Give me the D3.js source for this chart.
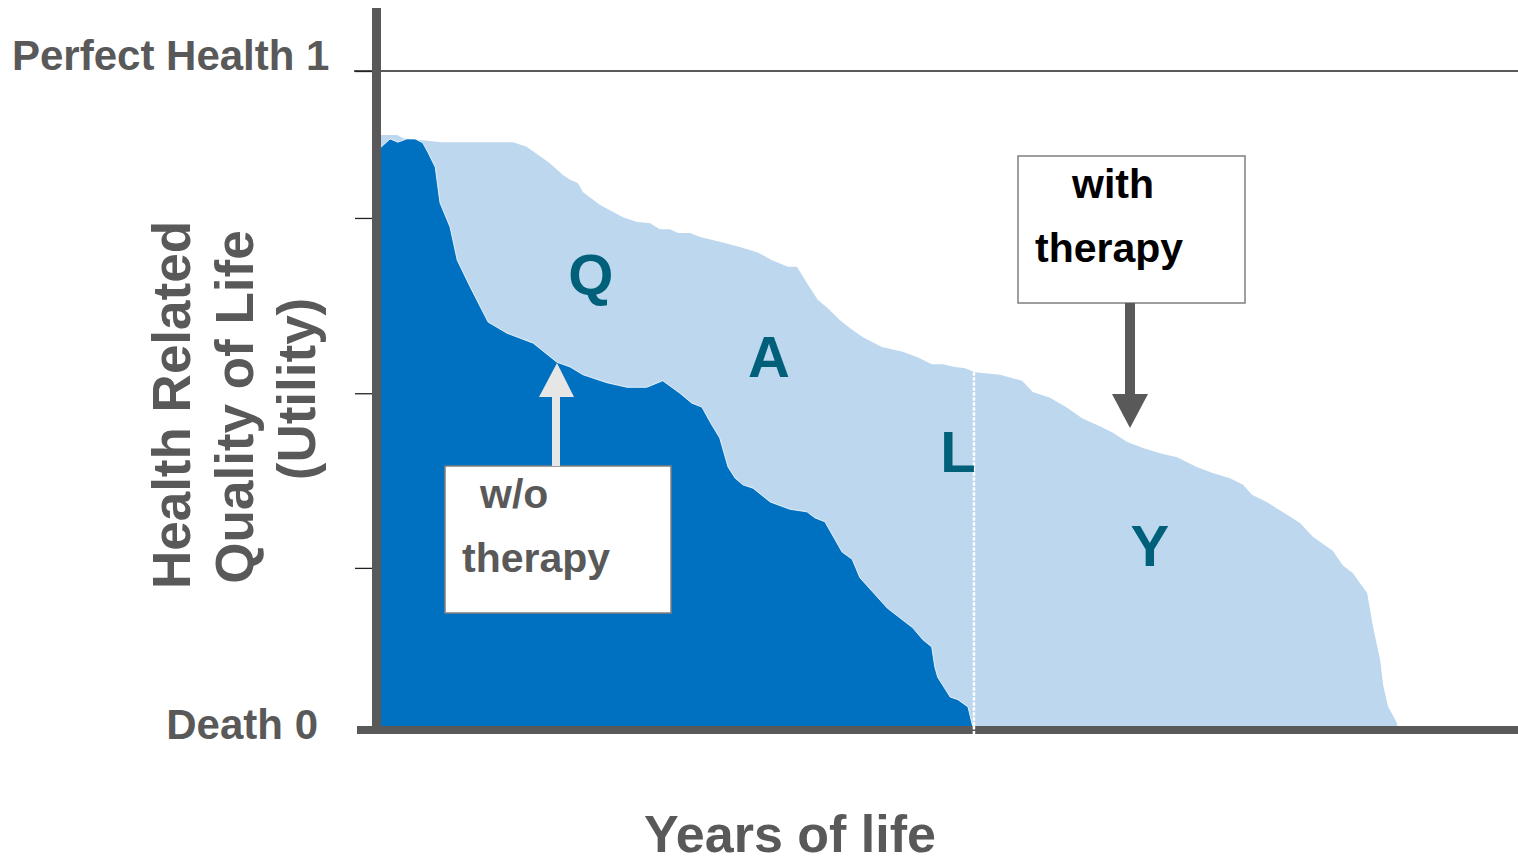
<!DOCTYPE html>
<html>
<head>
<meta charset="utf-8">
<script src="https://cdn.jsdelivr.net/npm/d3@7"></script>
<style>
  body { margin: 0; background: #fff; }
  svg { display: block; }
  text { font-family: "Liberation Sans", Arial, sans-serif; font-weight: bold; }
</style>
</head>
<body>
<div id="chart"></div>
<script>
// years of life (x) and utility (y) for the two survival curves
var withYears = [0, 0.29, 0.39, 1.04, 2.24, 2.47, 2.86, 3.08, 3.20, 3.33, 3.42, 3.70, 4.09, 4.33, 4.55, 4.71, 4.88, 5.02, 5.22, 5.39,
    5.72, 6.06, 6.35, 6.60, 6.87, 7.02, 7.19, 7.37, 7.54, 7.74, 7.91, 8.13, 8.45, 8.80, 9.04, 9.29, 9.48, 9.68, 9.85, 10.02,
    10.44, 10.81, 10.99, 11.28, 11.57, 11.82, 12.12, 12.34, 12.58, 12.85, 13.13, 13.42, 13.75, 14.02, 14.31, 14.53, 14.68, 14.93, 15.19, 15.49,
    15.71, 16.04, 16.21, 16.38, 16.62, 16.72, 16.84, 16.89, 16.97, 17.12, 17.14];
var withUtility = [0.903, 0.903, 0.898, 0.892, 0.892, 0.885, 0.860, 0.842, 0.835, 0.830, 0.816, 0.797, 0.778, 0.771, 0.769, 0.760, 0.760, 0.754, 0.754, 0.748,
    0.741, 0.733, 0.725, 0.713, 0.703, 0.703, 0.678, 0.653, 0.640, 0.622, 0.610, 0.596, 0.581, 0.574, 0.566, 0.555, 0.555, 0.551, 0.549, 0.543,
    0.539, 0.530, 0.513, 0.504, 0.489, 0.473, 0.461, 0.451, 0.437, 0.428, 0.420, 0.414, 0.399, 0.390, 0.382, 0.372, 0.357, 0.346, 0.331, 0.314,
    0.293, 0.272, 0.250, 0.238, 0.208, 0.156, 0.106, 0.068, 0.036, 0.011, 0];

var withoutYears = [0, 0.17, 0.30, 0.45, 0.59, 0.72, 0.81, 0.93, 1.01, 1.18, 1.30, 1.52, 1.82, 2.14, 2.58, 2.98, 3.20, 3.42, 3.82, 4.16,
    4.49, 4.76, 5.05, 5.25, 5.42, 5.56, 5.72, 5.86, 5.98, 6.11, 6.28, 6.57, 6.90, 7.19, 7.32, 7.49, 7.78, 7.95, 8.08, 8.54,
    8.97, 9.14, 9.29, 9.34, 9.39, 9.60, 9.73, 9.90, 9.98, 10.00];
var withoutUtility = [0.883, 0.897, 0.892, 0.897, 0.897, 0.891, 0.876, 0.854, 0.800, 0.763, 0.713, 0.672, 0.619, 0.602, 0.587, 0.558, 0.551, 0.539, 0.527, 0.520,
    0.520, 0.530, 0.511, 0.496, 0.490, 0.467, 0.443, 0.399, 0.382, 0.372, 0.367, 0.346, 0.335, 0.331, 0.322, 0.316, 0.270, 0.259, 0.231, 0.185,
    0.155, 0.137, 0.126, 0.096, 0.080, 0.050, 0.046, 0.035, 0.005, 0];

var utilityTicks = [0.246, 0.511, 0.777, 1];
var splitYear = 10; // where the w/o therapy curve reaches death
var qalyLetters = ["Q", "A", "L", "Y"];
var qalyPos = [[3.55, 0.660], [6.55, 0.536], [9.73, 0.392], [12.96, 0.249]];

var width = 1518, height = 862;
var svg = d3.select("#chart").append("svg")
    .attr("width", width)
    .attr("height", height);

var x = d3.scaleLinear().domain([0, 19.16]).range([380, 1518]);
var y = d3.scaleLinear().domain([0, 1]).range([730, 71]);

var withData = withYears.map(function(d, i) { return [d, withUtility[i]]; });
var withoutData = withoutYears.map(function(d, i) { return [d, withoutUtility[i]]; });

var area = d3.area()
    .x(function(d) { return x(d[0]); })
    .y0(y(0))
    .y1(function(d) { return y(d[1]); });

// with therapy (light) then w/o therapy (dark) on top
svg.append("path")
    .datum(withData)
    .attr("d", area)
    .attr("fill", "#bdd7ee");

svg.append("path")
    .datum(withoutData)
    .attr("d", area)
    .attr("fill", "#0070c0")
    .attr("stroke", "#ffffff")
    .attr("stroke-opacity", 0.8)
    .attr("stroke-width", 1);

// dotted split line
svg.append("line")
    .attr("x1", x(splitYear)).attr("x2", x(splitYear))
    .attr("y1", y(0.543)).attr("y2", y(0) + 4)
    .attr("stroke", "#ffffff")
    .attr("stroke-width", 2.5)
    .attr("stroke-dasharray", "3.5,1.5");

// perfect health line
svg.append("line")
    .attr("x1", 354).attr("x2", width)
    .attr("y1", y(1)).attr("y2", y(1))
    .attr("stroke", "#222")
    .attr("stroke-width", 1.3);

// y ticks
svg.append("g")
    .attr("transform", "translate(" + (x(0) - 8) + ",0)")
    .call(d3.axisLeft(y).tickValues(utilityTicks).tickSize(17).tickFormat(""))
    .call(function(g) {
        g.select(".domain").remove();
        g.selectAll(".tick line").attr("stroke", "#222").attr("stroke-width", 1.3);
    });

// thick axes
svg.append("line")
    .attr("x1", x(0) - 3.5).attr("x2", x(0) - 3.5)
    .attr("y1", 8).attr("y2", y(0))
    .attr("stroke", "#595959")
    .attr("stroke-width", 9);

svg.append("line")
    .attr("x1", 357).attr("x2", width)
    .attr("y1", y(0)).attr("y2", y(0))
    .attr("stroke", "#595959")
    .attr("stroke-width", 8);

// the dotted line pokes through the axis
svg.append("line")
    .attr("x1", x(splitYear)).attr("x2", x(splitYear))
    .attr("y1", y(0) - 4).attr("y2", y(0) + 4)
    .attr("stroke", "#ffffff")
    .attr("stroke-width", 2.5)
    .attr("stroke-dasharray", "3.5,1.5");

// Q A L Y letters
svg.selectAll(".qaly")
    .data(qalyLetters)
    .enter()
    .append("text")
    .attr("class", "qaly")
    .attr("x", function(d, i) { return x(qalyPos[i][0]); })
    .attr("y", function(d, i) { return y(qalyPos[i][1]); })
    .attr("text-anchor", "middle")
    .attr("font-size", 58)
    .attr("fill", "#00607a")
    .text(function(d) { return d; });

// axis labels
svg.append("text")
    .attr("x", 12).attr("y", 70)
    .attr("font-size", 42)
    .attr("fill", "#595959")
    .text("Perfect Health 1");

svg.append("text")
    .attr("x", 318).attr("y", 739)
    .attr("text-anchor", "end")
    .attr("font-size", 42)
    .attr("fill", "#595959")
    .text("Death 0");

svg.append("text")
    .attr("x", 790).attr("y", 852)
    .attr("text-anchor", "middle")
    .attr("font-size", 52)
    .attr("fill", "#595959")
    .text("Years of life");

var yTitle = ["Health Related", "Quality of Life", "(Utility)"];
var yTitleX = [190, 253, 315];
var yTitleY = [405, 407, 389];
yTitle.forEach(function(t, i) {
    svg.append("text")
        .attr("transform", "translate(" + yTitleX[i] + "," + yTitleY[i] + ") rotate(-90)")
        .attr("text-anchor", "middle")
        .attr("font-size", 53)
        .attr("fill", "#595959")
        .text(t);
});

// annotation boxes with arrows
function callout(bx, by, bw, bh, lines, indent, color) {
    svg.append("rect")
        .attr("x", bx).attr("y", by)
        .attr("width", bw).attr("height", bh)
        .attr("fill", "#fff")
        .attr("stroke", "#7f7f7f")
        .attr("stroke-width", 1.5);
    lines.forEach(function(t, i) {
        svg.append("text")
            .attr("x", bx + indent[i])
            .attr("y", by + 42 + i * 64)
            .attr("font-size", 41)
            .attr("fill", color)
            .text(t);
    });
}

callout(1018, 156, 227, 147, ["with", "therapy"], [54, 17], "#000");
callout(445, 466, 226, 147, ["w/o", "therapy"], [35, 17], "#595959");

// down arrow from "with therapy"
svg.append("line")
    .attr("x1", 1130).attr("x2", 1130)
    .attr("y1", 303).attr("y2", 396)
    .attr("stroke", "#595959")
    .attr("stroke-width", 10);
svg.append("path")
    .attr("d", "M1112,394 L1148,394 L1130,428 Z")
    .attr("fill", "#595959");

// up arrow from "w/o therapy"
svg.append("line")
    .attr("x1", 556).attr("x2", 556)
    .attr("y1", 466).attr("y2", 395)
    .attr("stroke", "#e6e6e6")
    .attr("stroke-width", 8);
svg.append("path")
    .attr("d", "M539,397 L574,397 L557,363 Z")
    .attr("fill", "#e6e6e6");
</script>
</body>
</html>
